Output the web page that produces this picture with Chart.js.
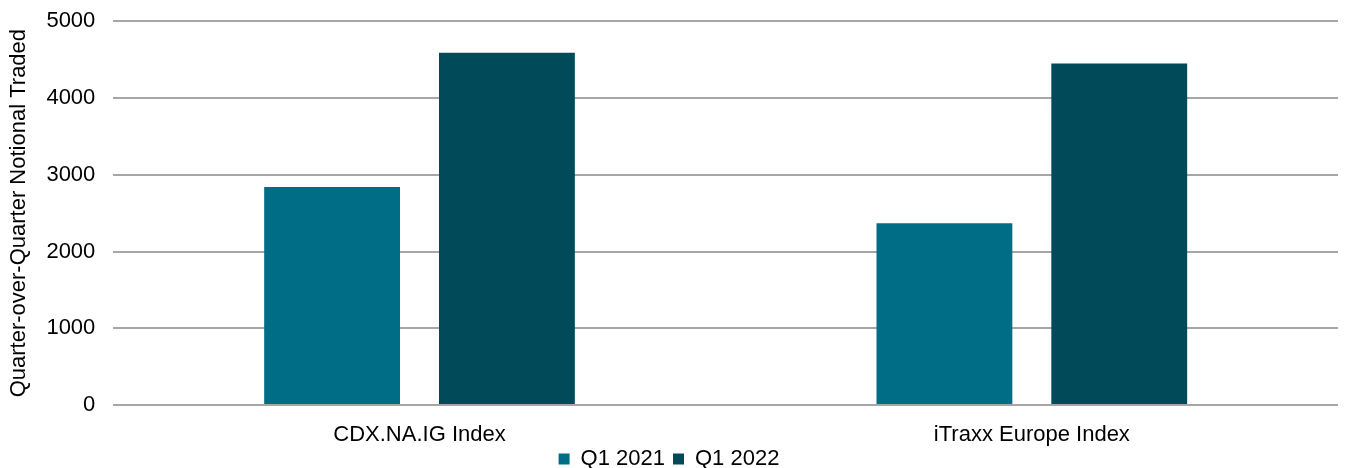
<!DOCTYPE html>
<html>
<head>
    <title>Notional Traded</title>
    <script src="https://cdn.jsdelivr.net/npm/chart.js"></script>
    <style>
        body { margin: 0; padding: 0; background: #fff; }
        #wrap { width: 1345px; height: 468px; }
    </style>
</head>
<body>
<div id="wrap"><canvas id="chart"></canvas></div>
<script>
    // dados do gráfico
    var categories = ['CDX.NA.IG Index', 'iTraxx Europe Index'];
    var q1_2021 = [2840, 2370];
    var q1_2022 = [4590, 4450];
    var seriesNames = ['Q1 2021', 'Q1 2022'];
    var yTicks = [0, 1000, 2000, 3000, 4000, 5000];

    Chart.defaults.font.family = '"Liberation Sans", Arial, sans-serif';
    Chart.defaults.font.size = 22;
    Chart.defaults.color = '#000';

    new Chart(document.getElementById('chart'), {
        type: 'bar',
        data: {
            labels: categories,
            datasets: [
                { label: seriesNames[0], data: q1_2021, backgroundColor: '#006d87' },
                { label: seriesNames[1], data: q1_2022, backgroundColor: '#004a5a' }
            ]
        },
        options: {
            responsive: true,
            maintainAspectRatio: false,
            animation: false,
            categoryPercentage: 0.571,
            barPercentage: 0.777,
            layout: { padding: { top: 0, right: 7, left: 0, bottom: -12 } },
            plugins: {
                legend: {
                    position: 'bottom',
                    labels: { boxWidth: 11, boxHeight: 11, padding: 8, font: { size: 22, lineHeight: 1 } }
                },
                tooltip: { enabled: false }
            },
            scales: {
                x: {
                    grid: { display: false, drawTicks: false },
                    border: { display: false },
                    ticks: { padding: 23, font: { size: 22, lineHeight: 0.6 } },
                    afterFit: function (scale) {
                        scale.height = 35;
                        // nao cortar os rotulos na caixa do eixo
                        scale._computeLabelArea = function () { return undefined; };
                    }
                },
                y: {
                    min: yTicks[0], max: yTicks[yTicks.length - 1],
                    ticks: {
                        stepSize: 1000, padding: 18, font: { size: 22, lineHeight: 0.3 },
                        callback: function (v) { return String(v); }
                    },
                    grid: { color: '#a6a6a6', lineWidth: 2, drawTicks: false },
                    border: { display: false },
                    title: {
                        display: true, text: 'Quarter-over-Quarter Notional Traded',
                        font: { size: 22 }, padding: { top: 6, bottom: -4 }
                    }
                }
            }
        }
    });
</script>
</body>
</html>
